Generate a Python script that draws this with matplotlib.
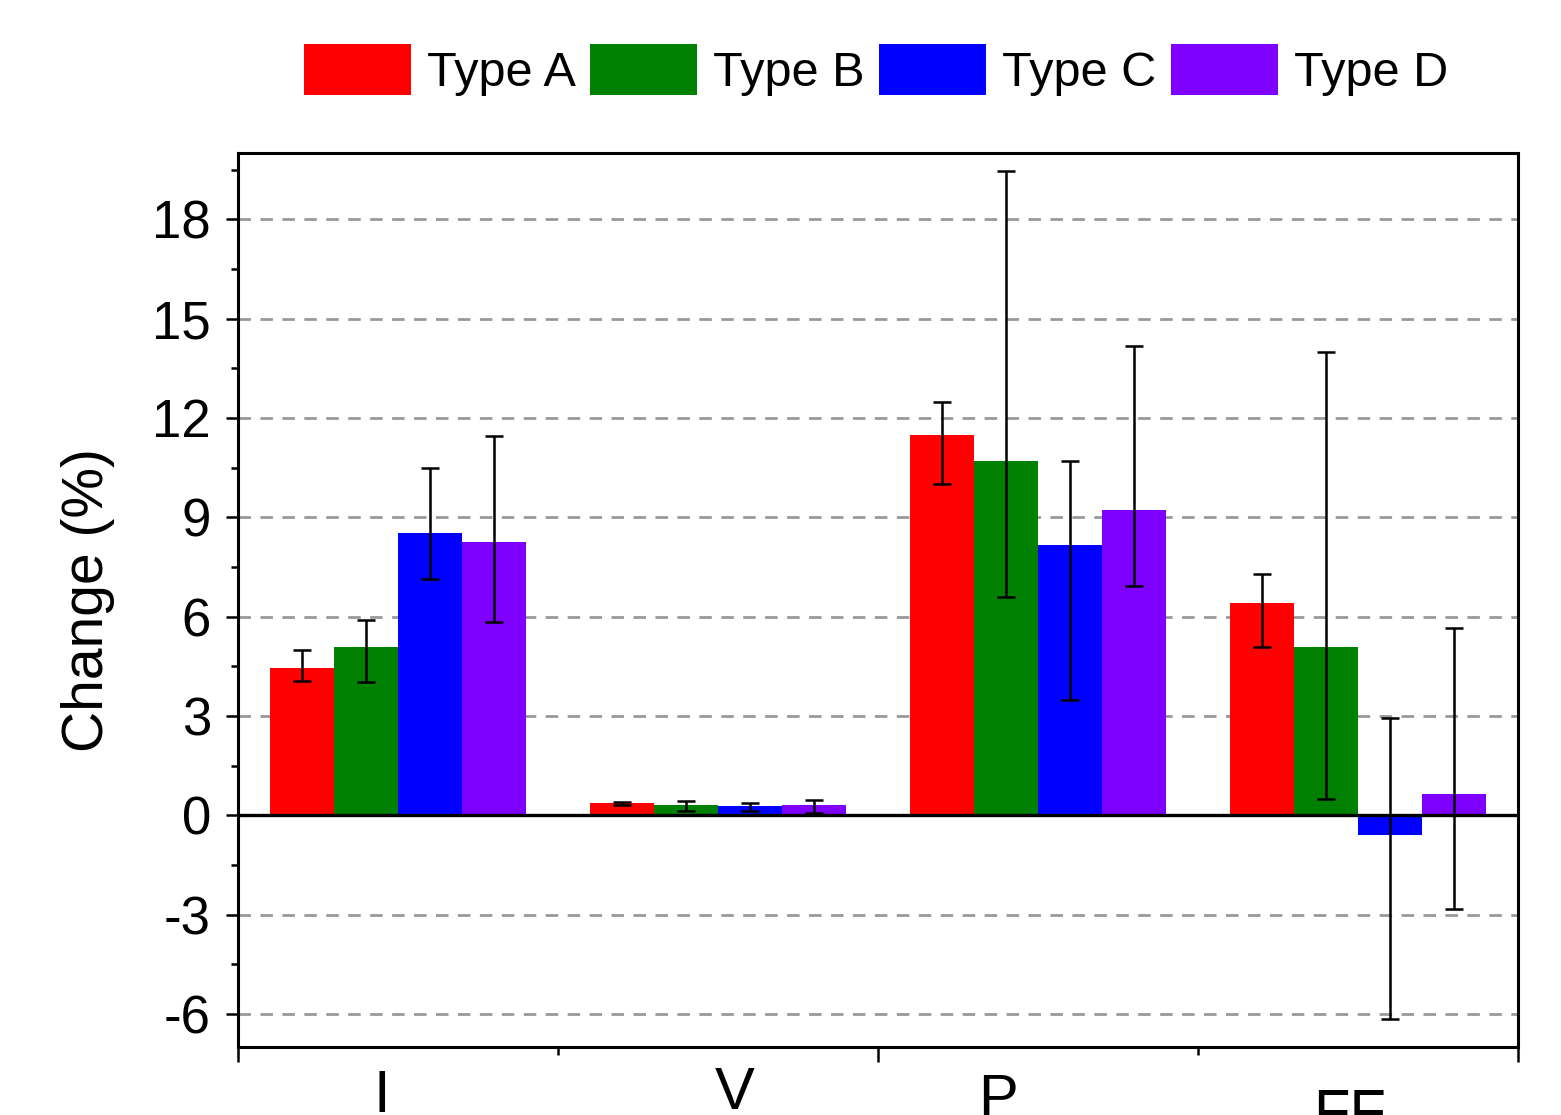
import numpy as np
import matplotlib
matplotlib.use("Agg")
import matplotlib.pyplot as plt
import matplotlib.transforms as mtransforms
from matplotlib.ticker import MultipleLocator, FixedLocator, NullFormatter

plt.rcParams['font.family'] = ['Liberation Sans', 'DejaVu Sans']
plt.rcParams['axes.unicode_minus'] = False

# data
param_main = ['I', 'V', 'P', 'FF']
param_sub = ['sc', 'oc', 'max', '']
types = ['Type A', 'Type B', 'Type C', 'Type D']
colors = ['#ff0000', '#008000', '#0000ff', '#8000ff']

# values per type, one entry per parameter (Isc, Voc, Pmax, FF)
type_a = [4.45, 0.36, 11.48, 6.42]
type_b = [5.07, 0.30, 10.69, 5.08]
type_c = [8.52, 0.29, 8.15, -0.60]
type_d = [8.24, 0.31, 9.21, 0.64]

# error bar ends (upper / lower) per type
a_hi = [4.98, 0.39, 12.47, 7.30]
a_lo = [4.05, 0.30, 10.00, 5.08]
b_hi = [5.89, 0.43, 19.45, 13.98]
b_lo = [4.02, 0.12, 6.58, 0.50]
c_hi = [10.48, 0.36, 10.69, 2.93]
c_lo = [7.13, 0.13, 3.47, -6.15]
d_hi = [11.45, 0.45, 14.16, 5.64]
d_lo = [5.83, 0.06, 6.92, -2.82]

values = [type_a, type_b, type_c, type_d]
highs = [a_hi, b_hi, c_hi, d_hi]
lows = [a_lo, b_lo, c_lo, d_lo]

fig = plt.figure(figsize=(15.61, 11.15), dpi=100)
ax = fig.add_axes([238 / 1561, 68 / 1115, 1280 / 1561, 894 / 1115])

centers = np.arange(len(param_main)) + 0.5
w = 0.2
for i, (name, col) in enumerate(zip(types, colors)):
    x = centers + (i - 1.5) * w
    v = np.array(values[i])
    err = [v - np.array(lows[i]), np.array(highs[i]) - v]
    ax.bar(x, v, width=w, color=col, label=name, zorder=2)
    ax.errorbar(x, v, yerr=err, fmt='none', ecolor='black', elinewidth=1.8,
                capsize=6.5, capthick=1.8, zorder=3)

ax.set_xlim(0, 4)
ax.set_ylim(-7, 20)

ax.yaxis.set_major_locator(MultipleLocator(3))
ax.yaxis.set_minor_locator(MultipleLocator(1.5))
ax.xaxis.set_major_locator(FixedLocator([0, 2, 4]))
ax.xaxis.set_minor_locator(FixedLocator([1, 3]))
ax.xaxis.set_major_formatter(NullFormatter())

# dashed grid and solid zero line
for yv in [-6, -3, 3, 6, 9, 12, 15, 18]:
    ax.axhline(yv, color='#999999', lw=2.0, ls=(0, (4.5, 3.4)), zorder=1)
ax.axhline(0, color='black', lw=2.4, zorder=4)

ax.tick_params(axis='y', which='major', direction='out', length=8.5, width=1.8,
               labelsize=38, pad=11)
ax.tick_params(axis='y', which='minor', direction='out', length=5, width=1.8)
ax.tick_params(axis='x', which='major', direction='out', length=11, width=1.8)
ax.tick_params(axis='x', which='minor', direction='out', length=6, width=1.8)
for s in ax.spines.values():
    s.set_linewidth(2.2)

# category labels, partly cut off by the lower edge as in the original
# (dx: pixel offset of the letter/subscript junction, dy: baseline below axis)
nudges = [(-8, 65), (37, 62), (-20, 69), (-8, 84)]
base = ax.get_xaxis_transform()
for c, main, sub, (dx, dy) in zip(centers, param_main, param_sub, nudges):
    tr = base + mtransforms.ScaledTranslation(dx / 100, -dy / 100,
                                              fig.dpi_scale_trans)
    if sub:
        ax.text(c, 0, main, transform=tr, ha='right', va='baseline',
                fontsize=43)
        tr2 = base + mtransforms.ScaledTranslation(dx / 100, -(dy + 2) / 100,
                                                   fig.dpi_scale_trans)
        ax.text(c, 0, sub, transform=tr2, ha='left', va='top', fontsize=30)
    else:
        ax.text(c, 0, main, transform=tr, ha='center', va='baseline',
                fontsize=43)

ax.set_ylabel('Change (%)', fontsize=41)
ax.yaxis.set_label_coords(-0.096, 0.5)

fig.legend(loc='center', bbox_to_anchor=(876 / 1561, 1 - 70 / 1115), ncol=4,
           frameon=False, fontsize=35, handlelength=2.2, handleheight=1.23,
           handletextpad=0.33, columnspacing=0.3, borderpad=0)

fig.savefig('out.png', dpi=100)
